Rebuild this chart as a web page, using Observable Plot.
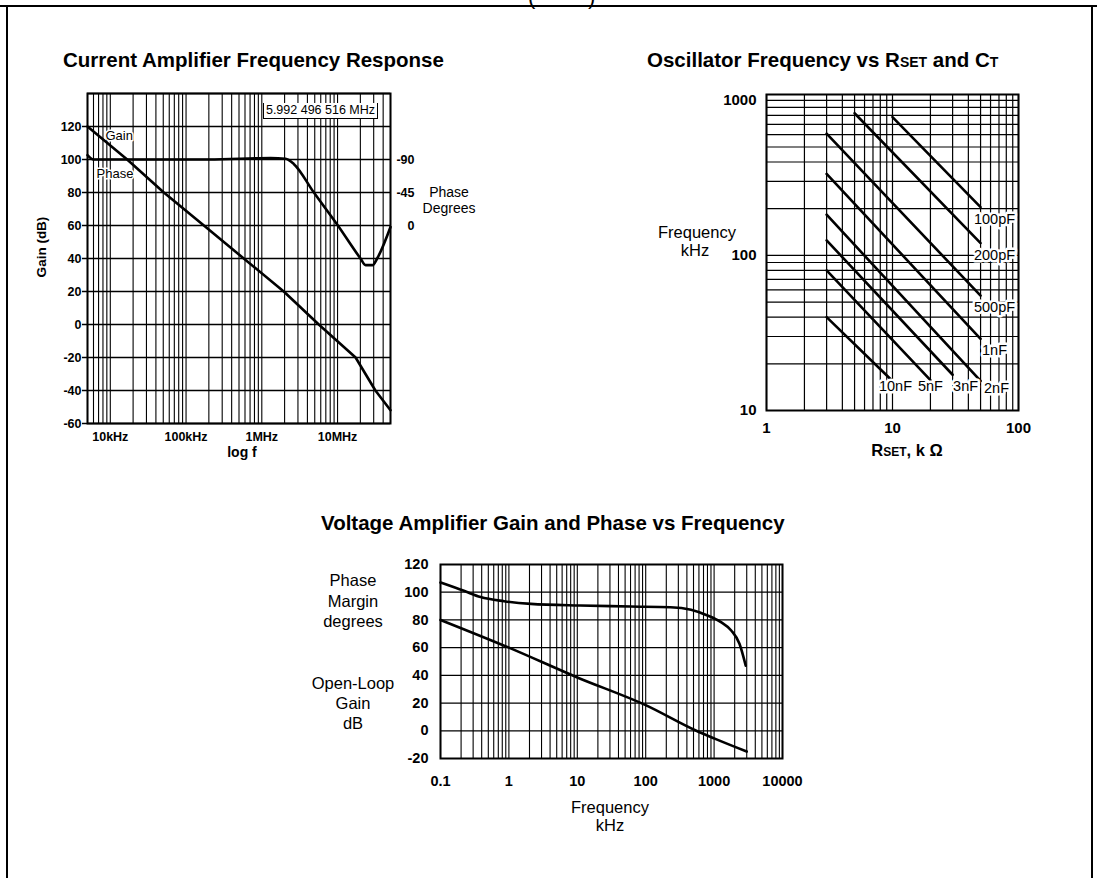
<!DOCTYPE html>
<html>
<head>
<meta charset="utf-8">
<script src="https://cdn.jsdelivr.net/npm/d3@7"></script>
<script src="https://cdn.jsdelivr.net/npm/@observablehq/plot@0.6"></script>
<style>
  body { margin: 0; background: #fff; color: #000; font-family: "Liberation Sans", Arial, sans-serif; }
  #page { position: relative; width: 1097px; height: 878px; overflow: hidden; background: #fff; }
  .abs { position: absolute; white-space: nowrap; line-height: 1; }
  .c { transform: translate(-50%, -50%); }
  .title { font-weight: bold; font-size: 20.5px; transform: translateY(-50%); }
  .sc { font-variant: small-caps; }
  .hl { position: absolute; background: #000; }
</style>
</head>
<body>
<div id="page"></div>
<script>
// ---------- Current Amplifier Frequency Response ----------
const caGainFreq = [5000, 16700, 50900, 172000, 578000, 1950000, 5650000, 17300000, 31600000, 50000000];
const caGainDb   = [120, 100, 80, 60, 40, 20, 0, -20, -40, -52];
const caPhaseFreq = [5000, 6000, 200000, 1300000, 2060000, 2640000, 4870000, 10100000, 20100000, 23400000, 29000000, 33300000, 50000000];
const caPhaseDeg  = [-96, -90, -90, -92, -91, -84, -45, 0, 45, 54, 54, 45, 2];
const caXTicks = [1e4, 1e5, 1e6, 1e7];
const caXTickLabels = ["10kHz", "100kHz", "1MHz", "10MHz"];
const caYTicks = [-60, -40, -20, 0, 20, 40, 60, 80, 100, 120];
const caYTickLabels = ["-60", "-40", "-20", "0", "20", "40", "60", "80", "100", "120"];
const caPhaseTicks = [-90, -45, 0];
const caPhaseTickLabels = ["-90", "-45", "0"];
const caCurveLabels = ["Gain", "Phase"];
const caMarker = "5.992 496 516 MHz";

// ---------- Oscillator Frequency vs RSET and CT ----------
const oscCaps   = ["100pF", "200pF", "500pF", "1nF", "2nF", "3nF", "5nF", "10nF"];
const oscRStart = [10, 5, 3, 3, 3, 3, 3, 3];
const oscFStart = [780, 825, 610, 335, 183, 125, 80, 40];
const oscREnd   = [50, 50, 50, 50, 50, 30, 20, 10];
const oscFEnd   = [205, 120, 55, 29, 15.5, 17, 15.7, 15.5];
const oscXTicks = [1, 10, 100];
const oscXTickLabels = ["1", "10", "100"];
const oscYTicks = [10, 100, 1000];
const oscYTickLabels = ["10", "100", "1000"];

// ---------- Voltage Amplifier Gain and Phase vs Frequency ----------
const vaPhaseFreq = [0.1, 0.22, 0.385, 0.85, 2.1, 11, 60, 230, 460, 800, 1260, 1780, 2350, 2900];
const vaPhaseDeg  = [107, 101, 96.5, 93.5, 91.6, 90.4, 89.7, 89.2, 87.3, 83.2, 78.4, 72.4, 62.8, 47];
const vaGainFreq = [0.1, 1, 10, 100, 550, 1000, 3000];
const vaGainDb   = [80, 60, 38.5, 18.5, 0, -5.5, -15];
const vaXTicks = [0.1, 1, 10, 100, 1000, 10000];
const vaXTickLabels = ["0.1", "1", "10", "100", "1000", "10000"];
const vaYTicks = [-20, 0, 20, 40, 60, 80, 100, 120];
const vaYTickLabels = ["-20", "0", "20", "40", "60", "80", "100", "120"];

// ---------- helpers ----------
const FONT = '"Liberation Sans", Arial, Helvetica, sans-serif';
function logGrid(lo, hi) {
  const out = [];
  for (let e = Math.floor(Math.log10(lo)) - 1; e <= Math.ceil(Math.log10(hi)); e++)
    for (let k = 1; k <= 9; k++) {
      const v = k * Math.pow(10, e);
      if (v >= lo * 0.999 && v <= hi * 1.001) out.push(v);
    }
  return out;
}
const fmt = (ticks, labels) => d => {
  const i = ticks.findIndex(t => Math.abs(t - d) < 1e-9 * Math.max(1, Math.abs(t)));
  return i >= 0 ? labels[i] : "";
};
const page = document.getElementById("page");
function place(svg, left, top) {
  const d = document.createElement("div");
  d.style.position = "absolute"; d.style.left = left + "px"; d.style.top = top + "px";
  d.appendChild(svg); page.appendChild(d);
}
function label(html, x, y, css, centered = true) {
  const d = document.createElement("div");
  d.className = "abs" + (centered ? " c" : "");
  d.style.left = x + "px"; d.style.top = y + "px";
  d.style.cssText += css || "";
  d.innerHTML = html; page.appendChild(d);
  return d;
}
const baseStyle = { fontFamily: FONT, background: "transparent", color: "#000", overflow: "visible" };

// page frame
[["0px","5px","1097px","2px"],["6px","5px","2px","873px"],["1091px","5px","2px","873px"]].forEach(([l,t,w,h]) => {
  const d = document.createElement("div"); d.className = "hl";
  d.style.left = l; d.style.top = t; d.style.width = w; d.style.height = h; page.appendChild(d);
});
label("(", 528, -14, "font-size:22px;", false);
label(")", 588, -14, "font-size:22px;", false);

// ---------- Chart 1 ----------
const phaseToGain = deg => 60 - deg * 40 / 90;
const caGain = caGainFreq.map((f, i) => ({ f, v: caGainDb[i] }));
const caPhase = caPhaseFreq.map((f, i) => ({ f, v: phaseToGain(caPhaseDeg[i]) }));
const ca = Plot.plot({
  width: 460, height: 390,
  marginLeft: 67, marginRight: 90, marginTop: 13, marginBottom: 47,
  style: { ...baseStyle, fontSize: "13px" },
  x: { type: "log", domain: [5e3, 5e7] },
  y: { domain: [-60, 140] },
  marks: [
    Plot.ruleX(logGrid(5e3, 5e7), { stroke: "#000", strokeWidth: 1.1 }),
    Plot.ruleY(d3.range(-60, 141, 20), { stroke: "#000", strokeWidth: 1.3 }),
    Plot.frame({ stroke: "#000", strokeWidth: 2 }),
    Plot.line(caGain, { x: "f", y: "v", stroke: "#000", strokeWidth: 2.6 }),
    Plot.line(caPhase, { x: "f", y: "v", stroke: "#000", strokeWidth: 2.6, curve: "monotone-x" }),
    Plot.axisX({ ticks: caXTicks, tickFormat: fmt(caXTicks, caXTickLabels), tickSize: 0, tickPadding: 9, label: null, fontWeight: "bold", fontSize: 12.5 }),
    Plot.axisY({ ticks: caYTicks, tickFormat: fmt(caYTicks, caYTickLabels), tickSize: 5, tickPadding: 1, label: null, fontWeight: "bold", fontSize: 12.5, strokeWidth: 1.5 }),
    Plot.axisY({ anchor: "right", ticks: caPhaseTicks.map(phaseToGain), tickFormat: fmt(caPhaseTicks.map(phaseToGain), caPhaseTickLabels),
                 tickSize: 0, tickPadding: 24, textAnchor: "end", label: null, fontWeight: "bold", fontSize: 12.5 }),
    Plot.text([{ f: caGainFreq[0], v: caGainDb[0], t: caCurveLabels[0] }], { x: "f", y: "v", text: "t", textAnchor: "start", dx: 18, dy: 9, fontSize: 13, stroke: "#fff", strokeWidth: 3, fill: "#000" }),
    Plot.text([{ f: caPhase[0].f, v: caPhase[0].v, t: caCurveLabels[1] }], { x: "f", y: "v", text: "t", textAnchor: "start", dx: 9, dy: 19, fontSize: 13, stroke: "#fff", strokeWidth: 3, fill: "#000" })
  ]
});
place(ca, 20, 80);
label("Current Amplifier Frequency Response", 63, 60, "", false).classList.add("title");
label("Gain (dB)", 42, 247, "font-size:13.5px;font-weight:bold;transform:translate(-50%,-50%) rotate(-90deg);");
label("log f", 242, 452, "font-size:14px;font-weight:bold;");
label("Phase", 449, 192, "font-size:14px;");
label("Degrees", 449, 208, "font-size:14px;");
label(caMarker, 263, 103, "font-size:12.5px;background:#fff;border:1.5px solid #000;border-top:none;width:113px;height:15px;line-height:15px;text-align:center;", false);

// ---------- Chart 2 ----------
const oscLines = [];
oscCaps.forEach((c, i) => {
  oscLines.push({ c, r: oscRStart[i], f: oscFStart[i] });
  oscLines.push({ c, r: oscREnd[i], f: oscFEnd[i] });
});
const oscEnds = oscCaps.map((c, i) => ({ c, r: oscREnd[i], f: oscFEnd[i] }));
const capLabel = { fontSize: 14.5, fill: "#000", stroke: "#fff", strokeWidth: 5, textAnchor: "middle" };
const osc = Plot.plot({
  width: 450, height: 390,
  marginLeft: 126, marginRight: 72, marginTop: 14, marginBottom: 60,
  style: { ...baseStyle, fontSize: "15px" },
  x: { type: "log", domain: [1, 100] },
  y: { type: "log", domain: [10, 1090] },
  marks: [
    Plot.ruleX(logGrid(1, 100), { stroke: "#000", strokeWidth: 1.2 }),
    Plot.ruleY(logGrid(10, 1000), { stroke: "#000", strokeWidth: 1.2 }),
    Plot.frame({ stroke: "#000", strokeWidth: 2 }),
    Plot.line(oscLines, { x: "r", y: "f", z: "c", stroke: "#000", strokeWidth: 2.6 }),
    Plot.text(oscEnds.filter(d => d.r === 50 && d.c !== "2nF"), { y: "f", text: "c", frameAnchor: "right", dx: -24, dy: 12, ...capLabel }),
    Plot.text(oscEnds.filter(d => d.c === "2nF"), { y: "f", text: "c", frameAnchor: "right", dx: -22, dy: 7, ...capLabel }),
    Plot.text(oscEnds.filter(d => d.c === "3nF"), { x: "r", text: "c", frameAnchor: "bottom", dx: 13, dy: -20, ...capLabel }),
    Plot.text(oscEnds.filter(d => d.c === "5nF"), { x: "r", text: "c", frameAnchor: "bottom", dx: 0, dy: -20, ...capLabel }),
    Plot.text(oscEnds.filter(d => d.c === "10nF"), { x: "r", text: "c", frameAnchor: "bottom", dx: 3, dy: -20, ...capLabel }),
    Plot.axisX({ ticks: oscXTicks, tickFormat: fmt(oscXTicks, oscXTickLabels), tickSize: 0, tickPadding: 12, label: null, fontWeight: "bold", fontSize: 15 }),
    Plot.axisY({ ticks: oscYTicks, tickFormat: fmt(oscYTicks, oscYTickLabels), tickSize: 0, tickPadding: 10, label: null, fontWeight: "bold", fontSize: 15 })
  ]
});
place(osc, 640, 80);
label('Oscillator Frequency vs R<span class="sc">set</span> and C<span class="sc">t</span>', 647, 60, "", false).classList.add("title");
label("Frequency", 697, 232, "font-size:16.5px;");
label("kHz", 695, 250, "font-size:16.5px;");
label('R<span class="sc">set</span>, k Ω', 907, 450, "font-size:16.5px;font-weight:bold;");

// ---------- Chart 3 ----------
const vaPhase = vaPhaseFreq.map((f, i) => ({ f, v: vaPhaseDeg[i] }));
const vaGain = vaGainFreq.map((f, i) => ({ f, v: vaGainDb[i] }));
const va = Plot.plot({
  width: 510, height: 255,
  marginLeft: 140, marginRight: 28, marginTop: 19, marginBottom: 42,
  style: { ...baseStyle, fontSize: "15px" },
  x: { type: "log", domain: [0.1, 10000] },
  y: { domain: [-20, 120] },
  marks: [
    Plot.ruleX(logGrid(0.1, 10000), { stroke: "#000", strokeWidth: 1.1 }),
    Plot.ruleY(d3.range(-20, 121, 20), { stroke: "#000", strokeWidth: 1.2 }),
    Plot.frame({ stroke: "#000", strokeWidth: 2 }),
    Plot.line(vaPhase, { x: "f", y: "v", stroke: "#000", strokeWidth: 2.6, curve: "monotone-x" }),
    Plot.line(vaGain, { x: "f", y: "v", stroke: "#000", strokeWidth: 2.6, curve: "monotone-x" }),
    Plot.axisX({ ticks: vaXTicks, tickFormat: fmt(vaXTicks, vaXTickLabels), tickSize: 0, tickPadding: 17, label: null, fontWeight: "bold", fontSize: 14.5 }),
    Plot.axisY({ ticks: vaYTicks, tickFormat: fmt(vaYTicks, vaYTickLabels), tickSize: 0, tickPadding: 12, label: null, fontWeight: "bold", fontSize: 14.5 })
  ]
});
place(va, 300, 545);
label("Voltage Amplifier Gain and Phase vs Frequency", 321, 523, "", false).classList.add("title");
["Phase", "Margin", "degrees"].forEach((t, i) => label(t, 353, 580 + i * 20.5, "font-size:16.5px;"));
["Open-Loop", "Gain", "dB"].forEach((t, i) => label(t, 353, 683 + i * 20, "font-size:16.5px;"));
label("Frequency", 610, 807, "font-size:16.5px;");
label("kHz", 610, 825, "font-size:16.5px;");
</script>
</body>
</html>
